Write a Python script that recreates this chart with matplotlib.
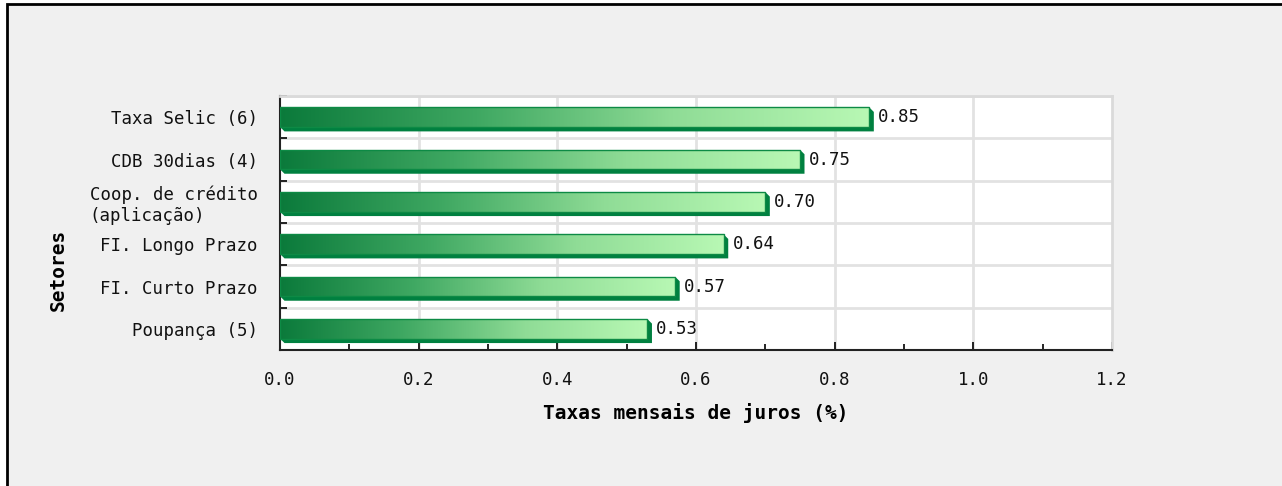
import matplotlib
matplotlib.use("Agg")
import matplotlib.pyplot as plt
import numpy as np
from matplotlib.colors import LinearSegmentedColormap
from matplotlib.patches import Polygon, Rectangle
from matplotlib.ticker import MultipleLocator, FixedLocator

categories = [
    "Taxa Selic (6)",
    "CDB 30dias (4)",
    "Coop. de crédito\n(aplicação)",
    "FI. Longo Prazo",
    "FI. Curto Prazo",
    "Poupança (5)",
]
values = [0.85, 0.75, 0.70, 0.64, 0.57, 0.53]
x_ticks = [0.0, 0.2, 0.4, 0.6, 0.8, 1.0, 1.2]
x_label = "Taxas mensais de juros (%)"
y_label = "Setores"

FONT = "DejaVu Sans Mono"
W, H = 1282, 486

fig = plt.figure(figsize=(W / 100, H / 100), dpi=100, facecolor="white")
# grey panel with black frame on top/left (image is a crop of a bigger page)
fig.add_artist(Rectangle((7 / W, -0.05), 1.1, (H - 4.5) / H + 0.05,
                         transform=fig.transFigure, facecolor="#f0f0f0",
                         edgecolor="black", linewidth=2, zorder=-10))

ax = fig.add_axes([280 / W, 1 - 350 / H, 832 / W, 254 / H])
ax.set_facecolor("white")

n = len(categories)
ypos = np.arange(n)

# pixel -> data sizes for the 3D extrusion
px_x = 1.2 / 832
px_y = n / 254
d = 4.5
bar_h = 0.46

cmap = LinearSegmentedColormap.from_list("grn", ["#0b7a3b", "#3fa862", "#8fdc96", "#b8f8b4"])
grad = np.linspace(0, 1, 256).reshape(1, -1)

bars = ax.barh(ypos, values, height=bar_h, color="none", edgecolor="#0d8a45",
               linewidth=1, zorder=4)
for bar, v in zip(bars, values):
    x0, y0 = bar.get_x(), bar.get_y()
    x1, y1 = x0 + bar.get_width(), y0 + bar.get_height()
    dx, dy = d * px_x, d * px_y
    # shadow / extrusion (y axis inverted: +dy goes down)
    shadow = Polygon([(x0, y1), (x0 + dx, y1 + dy), (x1 + dx, y1 + dy),
                      (x1 + dx, y0 + dy), (x1, y0), (x1, y1)],
                     closed=True, facecolor="#008040", edgecolor="none", zorder=2)
    ax.add_patch(shadow)
    im = ax.imshow(grad, cmap=cmap, aspect="auto", extent=(x0, x1, y1, y0),
                   zorder=3, interpolation="bilinear")
    im.set_clip_path(bar)
    ax.annotate(f"{v:.2f}", xy=(x1 + dx, bar.get_y() + bar.get_height() / 2),
                xytext=(3, 0), textcoords="offset points", va="center",
                ha="left", fontsize=12.5, family=FONT, color="#111111")
ax.set_xlim(0, 1.2)
ax.set_ylim(n - 0.5, -0.5)

# grid
ax.xaxis.set_major_locator(FixedLocator(x_ticks))
ax.xaxis.set_minor_locator(MultipleLocator(0.1))
ax.set_xticklabels([f"{t:.1f}" for t in x_ticks])
ax.set_yticks(ypos)
ax.set_yticklabels(categories)
ax.yaxis.set_minor_locator(FixedLocator(np.arange(n + 1) - 0.5))
for t in x_ticks[1:-1]:
    ax.axvline(t, color="#e2e2e2", linewidth=2, zorder=1)
for b in np.arange(n + 1) - 0.5:
    ax.axhline(b, color="#e2e2e2", linewidth=2, zorder=1)

for lbl in ax.get_yticklabels():
    lbl.set_multialignment("left")

ax.tick_params(axis="y", which="major", length=0, pad=16, labelsize=12.5,
               labelfontfamily=FONT, labelcolor="#111111")
ax.tick_params(axis="y", which="minor", direction="in", length=5, width=1.2,
               color="black")
ax.tick_params(axis="x", which="major", direction="in", length=6, width=1.2,
               pad=15, labelsize=12.5, labelfontfamily=FONT, labelcolor="#111111")
ax.tick_params(axis="x", which="minor", direction="in", length=4, width=1.2)

for side in ("top", "right"):
    ax.spines[side].set_color("#dadada")
    ax.spines[side].set_linewidth(2)
for side in ("left", "bottom"):
    ax.spines[side].set_color("#222222")
    ax.spines[side].set_linewidth(1.5)

ax.set_xlabel(x_label, fontsize=14, family=FONT, fontweight="bold", labelpad=10.5)
ax.set_ylabel(y_label, fontsize=14, family=FONT, fontweight="bold")
ax.yaxis.set_label_coords(-0.255, 0.315)

fig.savefig("out.png", dpi=100, facecolor=fig.get_facecolor())
